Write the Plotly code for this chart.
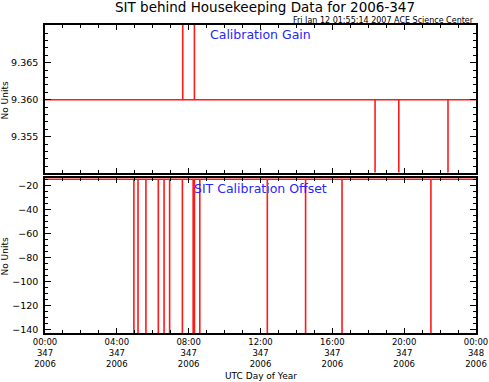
import plotly.graph_objects as go

# ---- data (hours of day 2006-347 UTC) ----
gain_base = 9.360
gain_spike_hours = [7.67, 8.32, 18.38, 19.70, 22.44]
gain_spike_values = [9.380, 9.380, 9.340, 9.340, 9.340]

offset_base = -15.0
offset_spike_hours = [4.95, 5.18, 5.62, 6.31, 6.63, 6.94, 7.65, 8.25, 8.32, 8.62,
                      12.38, 14.51, 16.54, 21.49]
offset_spike_values = [-150] * len(offset_spike_hours)

tick_hours = [0, 4, 8, 12, 16, 20, 24]
tick_time_labels = ["00:00", "04:00", "08:00", "12:00", "16:00", "20:00", "00:00"]
tick_day_labels = ["347", "347", "347", "347", "347", "347", "348"]
tick_year_labels = ["2006"] * 7

gain_ticks = [9.355, 9.360, 9.365]
gain_tick_labels = ["9.355", "9.360", "9.365"]
offset_ticks = [-20, -40, -60, -80, -100, -120, -140]


def spike_series(base, hours, values, start=0, end=24):
    xs, ys = [start], [base]
    for h, v in sorted(zip(hours, values)):
        xs += [h, h, h]
        ys += [base, v, base]
    xs.append(end)
    ys.append(base)
    return xs, ys


FONT = "DejaVu Sans"
RED = "#ff1a1a"
BLUE = "#2626ff"

gx, gy = spike_series(gain_base, gain_spike_hours, gain_spike_values)
ox, oy = spike_series(offset_base, offset_spike_hours, offset_spike_values)

fig = go.Figure()
fig.add_trace(go.Scatter(x=gx, y=gy, mode="lines", line=dict(color=RED, width=1.6),
                         xaxis="x", yaxis="y", showlegend=False, hoverinfo="skip"))
fig.add_trace(go.Scatter(x=ox, y=oy, mode="lines", line=dict(color=RED, width=1.6),
                         xaxis="x2", yaxis="y2", showlegend=False, hoverinfo="skip"))

W = 431.0  # plot area width in px (l=45, r=13)
H = 308.0  # plot area height in px (t=25, b=49)


def px(xpx):
    return (xpx - 45) / W


def py(ypx):
    return (333 - ypx) / H


axis_common = dict(showline=True, linecolor="black", linewidth=1.6, mirror="allticks",
                   ticks="inside", tickcolor="black", showgrid=False, zeroline=False,
                   automargin=False)
minor_x = dict(dtick=1, ticks="inside", ticklen=3, tickcolor="black", showgrid=False)

fig.update_layout(
    width=489, height=382,
    margin=dict(l=45, r=13, t=25, b=49, autoexpand=False),
    paper_bgcolor="white", plot_bgcolor="white",
    font=dict(family=FONT, color="black"),
    xaxis=dict(domain=[0, 1], anchor="y", range=[0, 24], tickvals=tick_hours,
               showticklabels=False, ticklen=5, tickwidth=1, minor=minor_x, **axis_common),
    yaxis=dict(domain=[py(172.5), 1], anchor="x", range=[9.35016, 9.3701], tickvals=gain_ticks,
               ticktext=gain_tick_labels, ticklen=6, tickwidth=1, ticklabelstandoff=3,
               tickfont=dict(family=FONT, size=9.5, color="black"),
               minor=dict(dtick=0.001, tick0=9.35, ticks="inside", ticklen=3, tickcolor="black", showgrid=False),
               **axis_common),
    xaxis2=dict(domain=[0, 1], anchor="y2", range=[0, 24], tickvals=tick_hours,
                ticktext=[f"{t}<br>{d}<br>{y}" for t, d, y in
                          zip(tick_time_labels, tick_day_labels, tick_year_labels)],
                ticklen=5, tickwidth=1,
                tickfont=dict(family=FONT, size=8.5, color="black"),
                minor=minor_x, **axis_common),
    yaxis2=dict(domain=[0, py(178)], anchor="x2", range=[-142.5, -13.95], tickvals=offset_ticks,
                ticklen=6, tickwidth=1, ticklabelstandoff=3,
                tickfont=dict(family=FONT, size=9.5, color="black"),
                minor=dict(dtick=5, tick0=0, ticks="inside", ticklen=3, tickcolor="black", showgrid=False),
                **axis_common),
)

ann = []
ann.append(dict(text="SIT behind Housekeeping Data for 2006-347", xref="paper", yref="paper",
                x=px(264.5), y=py(7), xanchor="center", yanchor="middle", showarrow=False,
                font=dict(family=FONT, size=13.5, color="black")))
ann.append(dict(text="Fri Jan 12 01:55:14 2007 ACE Science Center", xref="paper", yref="paper",
                x=px(476), y=py(20.5), xanchor="right", yanchor="middle", showarrow=False,
                font=dict(family=FONT, size=8, color="black")))
ann.append(dict(text="Calibration Gain", xref="paper", yref="paper",
                x=px(260), y=py(35), xanchor="center", yanchor="middle", showarrow=False,
                font=dict(family=FONT, size=12.5, color=BLUE)))
ann.append(dict(text="SIT Calibration Offset", xref="paper", yref="paper",
                x=px(260), y=py(188), xanchor="center", yanchor="middle", showarrow=False,
                font=dict(family=FONT, size=12.5, color=BLUE)))
for yc in (101, 257):
    ann.append(dict(text="No Units", xref="paper", yref="paper", textangle=-90,
                    x=px(4.5), y=py(yc), xanchor="center", yanchor="middle",
                    showarrow=False, font=dict(family=FONT, size=9, color="black")))
ann.append(dict(text="UTC Day of Year", xref="paper", yref="paper",
                x=px(261), y=py(376), xanchor="center", yanchor="middle", showarrow=False,
                font=dict(family=FONT, size=9, color="black")))
fig.update_layout(annotations=ann)

fig.write_html(
    "out.html",
    config={"displayModeBar": False, "responsive": False},
    post_script=("document.body.style.margin='0';"
                 "document.body.style.overflow='hidden';"
                 "document.documentElement.style.overflow='hidden';"),
)
